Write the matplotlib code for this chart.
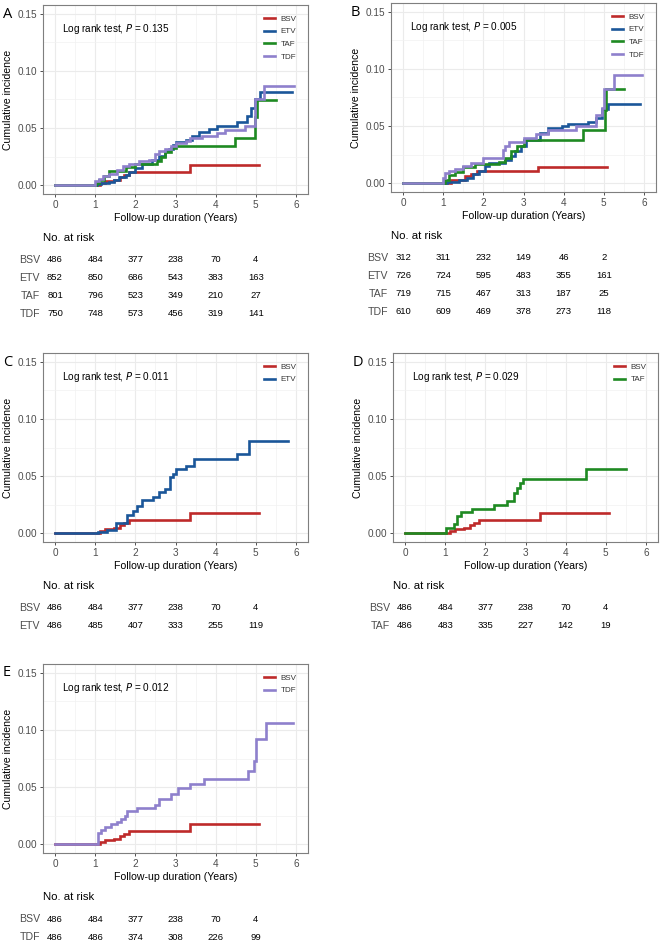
import matplotlib.pyplot as plt
import matplotlib.transforms as mtransforms
from matplotlib.ticker import MultipleLocator

plt.rcParams['font.family'] = ['Liberation Sans', 'DejaVu Sans']

# colours of the groups
colors = {"BSV": "#BE2A2A", "ETV": "#1A5699", "TAF": "#1E8A22", "TDF": "#8E80CC"}

# cumulative incidence curves (step, post), time in years
bsv_t = [0, 1.12, 1.25, 1.47, 1.62, 1.72, 1.84, 3.35, 5.08]
bsv_y = [0, 0.002, 0.0035, 0.005, 0.0075, 0.0095, 0.0116, 0.0176, 0.0176]

a_etv_t = [0, 1.05, 1.14, 1.35, 1.47, 1.6, 1.76, 1.84, 2.0, 2.17, 2.42, 2.59, 2.75, 2.83, 2.93, 3.0, 3.25,
           3.41, 3.58, 3.83, 4.03, 4.53, 4.78, 4.88, 4.98, 5.1, 5.89]
a_etv_y = [0, 0.001, 0.002, 0.0032, 0.005, 0.0073, 0.0093, 0.012, 0.015, 0.019, 0.022, 0.026, 0.0297, 0.032,
           0.035, 0.0375, 0.04, 0.043, 0.047, 0.049, 0.052, 0.0555, 0.061, 0.068, 0.075, 0.0815, 0.0815]
a_taf_t = [0, 1.02, 1.1, 1.22, 1.35, 1.76, 2.0, 2.55, 2.63, 2.75, 2.9, 3.0, 4.49, 4.98, 5.02, 5.5]
a_taf_y = [0, 0.002, 0.005, 0.0084, 0.013, 0.016, 0.019, 0.021, 0.025, 0.029, 0.0326, 0.0346, 0.041, 0.06,
           0.0745, 0.0745]
a_tdf_t = [0, 1.0, 1.1, 1.2, 1.35, 1.55, 1.68, 1.85, 2.1, 2.34, 2.5, 2.58, 2.75, 2.9, 3.0, 3.25, 3.37, 3.66,
           4.03, 4.24, 4.73, 4.98, 5.2, 5.95]
a_tdf_y = [0, 0.0035, 0.006, 0.008, 0.010, 0.0137, 0.017, 0.019, 0.021, 0.022, 0.027, 0.0297, 0.0317, 0.0346,
           0.037, 0.039, 0.041, 0.043, 0.046, 0.048, 0.052, 0.075, 0.0864, 0.0864]

b_bsv_t = [0, 1.2, 1.55, 1.7, 1.85, 3.35, 5.07]
b_bsv_y = [0, 0.0032, 0.0065, 0.0085, 0.0105, 0.0145, 0.0145]
b_etv_t = [0, 1.1, 1.4, 1.6, 1.75, 1.9, 2.05, 2.15, 2.55, 2.7, 2.8, 2.95, 3.05, 3.4, 3.6, 3.95, 4.1, 4.6, 4.8,
           4.95, 5.1, 5.9]
b_etv_y = [0, 0.001, 0.003, 0.005, 0.008, 0.011, 0.015, 0.018, 0.020, 0.024, 0.028, 0.033, 0.038, 0.044,
           0.0485, 0.050, 0.052, 0.054, 0.057, 0.065, 0.069, 0.069]
b_taf_t = [0, 1.05, 1.15, 1.3, 1.5, 1.8, 2.4, 2.55, 2.7, 2.85, 3.0, 4.48, 5.02, 5.05, 5.51]
b_taf_y = [0, 0.003, 0.007, 0.010, 0.014, 0.017, 0.019, 0.022, 0.028, 0.033, 0.038, 0.0465, 0.064, 0.0826,
           0.0826]
b_tdf_t = [0, 1.0, 1.05, 1.15, 1.3, 1.5, 1.7, 2.0, 2.5, 2.55, 2.65, 3.0, 3.3, 3.6, 4.3, 4.8, 4.95, 5.0, 5.26,
           5.95]
b_tdf_y = [0, 0.005, 0.009, 0.011, 0.013, 0.015, 0.018, 0.022, 0.029, 0.033, 0.036, 0.040, 0.043, 0.047,
           0.050, 0.060, 0.066, 0.082, 0.095, 0.095]

c_etv_t = [0, 1.07, 1.3, 1.52, 1.8, 1.95, 2.05, 2.16, 2.44, 2.58, 2.73, 2.86, 2.93, 3.0, 3.25, 3.45, 4.52,
           4.82, 5.79]
c_etv_y = [0, 0.0015, 0.003, 0.0087, 0.016, 0.02, 0.024, 0.0289, 0.032, 0.0364, 0.039, 0.049, 0.052, 0.0566,
           0.0587, 0.0653, 0.0697, 0.081, 0.081]

d_taf_t = [0, 1.02, 1.22, 1.3, 1.4, 1.67, 2.21, 2.54, 2.71, 2.78, 2.86, 2.94, 4.5, 5.5]
d_taf_y = [0, 0.0043, 0.008, 0.015, 0.019, 0.0214, 0.0249, 0.0286, 0.035, 0.040, 0.044, 0.0474, 0.0566,
           0.0566]

e_tdf_t = [0, 1.06, 1.14, 1.25, 1.4, 1.55, 1.65, 1.75, 1.8, 2.05, 2.5, 2.6, 2.9, 3.05, 3.35, 3.7, 4.8, 4.95,
           5.0, 5.25, 5.93]
e_tdf_y = [0, 0.010, 0.013, 0.0153, 0.018, 0.02, 0.0225, 0.025, 0.0295, 0.032, 0.0347, 0.040, 0.044, 0.0494,
           0.053, 0.057, 0.0645, 0.073, 0.092, 0.106, 0.106]

# numbers at risk at years 0..5
risk_times = [0, 1, 2, 3, 4, 5]
a_risk = {"BSV": [486, 484, 377, 238, 70, 4], "ETV": [852, 850, 686, 543, 383, 163],
          "TAF": [801, 796, 523, 349, 210, 27], "TDF": [750, 748, 573, 456, 319, 141]}
b_risk = {"BSV": [312, 311, 232, 149, 46, 2], "ETV": [726, 724, 595, 483, 355, 161],
          "TAF": [719, 715, 467, 313, 187, 25], "TDF": [610, 609, 469, 378, 273, 118]}
c_risk = {"BSV": [486, 484, 377, 238, 70, 4], "ETV": [486, 485, 407, 333, 255, 119]}
d_risk = {"BSV": [486, 484, 377, 238, 70, 4], "TAF": [486, 483, 335, 227, 142, 19]}
e_risk = {"BSV": [486, 484, 377, 238, 70, 4], "TDF": [486, 486, 374, 308, 226, 99]}

p_values = ["0.135", "0.005", "0.011", "0.029", "0.012"]

W, H = 660, 944
fig = plt.figure(figsize=(W / 100, H / 100), dpi=100)


def panel(left, top, letter, pval, curves, risk):
    # axes box in pixels: width 265, height 189
    ax = fig.add_axes([left / W, 1 - (top + 189) / H, 265 / W, 189 / H])
    for name, (t, y) in curves.items():
        ax.step(t, y, where='post', color=colors[name], lw=1.9, label=name, solid_joinstyle='miter')
    ax.set_xlim(-0.3, 6.3)
    ax.set_ylim(-0.0075, 0.1575)
    ax.xaxis.set_major_locator(MultipleLocator(1))
    ax.xaxis.set_minor_locator(MultipleLocator(0.5))
    ax.yaxis.set_major_locator(MultipleLocator(0.05))
    ax.yaxis.set_minor_locator(MultipleLocator(0.025))
    ax.yaxis.set_major_formatter(lambda v, p: f"{v:.2f}")
    ax.grid(which='major', color='#EBEBEB', lw=0.8)
    ax.grid(which='minor', color='#F2F2F2', lw=0.5)
    ax.set_axisbelow(True)
    for s in ax.spines.values():
        s.set_color('#7F7F7F')
        s.set_linewidth(0.8)
    ax.tick_params(which='major', length=2.5, width=0.6, color='#333333', labelsize=7.2,
                   labelcolor='#4D4D4D', pad=2)
    ax.tick_params(which='minor', length=0)
    ax.set_ylabel("Cumulative incidence", fontsize=7.6, labelpad=3)
    ax.set_xlabel("Follow-up duration (Years)", fontsize=7.6, labelpad=2)
    ax.text(0.07, 0.875, "Log rank test, $P$ = " + pval, transform=ax.transAxes, fontsize=7.2,
            va='center')
    leg = ax.legend(loc='upper right', bbox_to_anchor=(0.985, 0.985), frameon=False, fontsize=5.8,
                    handlelength=1.4, handletextpad=0.7, labelspacing=0.62)
    for txt in leg.get_texts():
        txt.set_color('#333333')
    fig.text((left - 40) / W, 1 - (top + 9) / H, letter, fontsize=10.5, family='Open Sans',
             va='center', ha='left')

    # risk table under the axes
    tr = mtransforms.blended_transform_factory(ax.transData, fig.transFigure)
    bottom = top + 189
    fig.text(left / W, 1 - (bottom + 44) / H, "No. at risk", fontsize=8.2, va='center')
    for i, (name, vals) in enumerate(risk.items()):
        yy = 1 - (bottom + 66 + 18 * i) / H
        fig.text((left - 3) / W, yy, name, fontsize=7.6, color='#4D4D4D', ha='right', va='center')
        for x, v in zip(risk_times, vals):
            ax.text(x, yy, str(v), transform=tr, fontsize=6.8, ha='center', va='center')
    return ax


panel(43, 5, "A", p_values[0],
      {"BSV": (bsv_t, bsv_y), "ETV": (a_etv_t, a_etv_y), "TAF": (a_taf_t, a_taf_y), "TDF": (a_tdf_t, a_tdf_y)},
      a_risk)
panel(391, 3, "B", p_values[1],
      {"BSV": (b_bsv_t, b_bsv_y), "ETV": (b_etv_t, b_etv_y), "TAF": (b_taf_t, b_taf_y), "TDF": (b_tdf_t, b_tdf_y)},
      b_risk)
panel(43, 353, "C", p_values[2], {"BSV": (bsv_t, bsv_y), "ETV": (c_etv_t, c_etv_y)}, c_risk)
panel(393, 353, "D", p_values[3], {"BSV": (bsv_t, bsv_y), "TAF": (d_taf_t, d_taf_y)}, d_risk)
panel(43, 664, "E", p_values[4], {"BSV": (bsv_t, bsv_y), "TDF": (e_tdf_t, e_tdf_y)}, e_risk)

fig.savefig("out.png", dpi=100)
